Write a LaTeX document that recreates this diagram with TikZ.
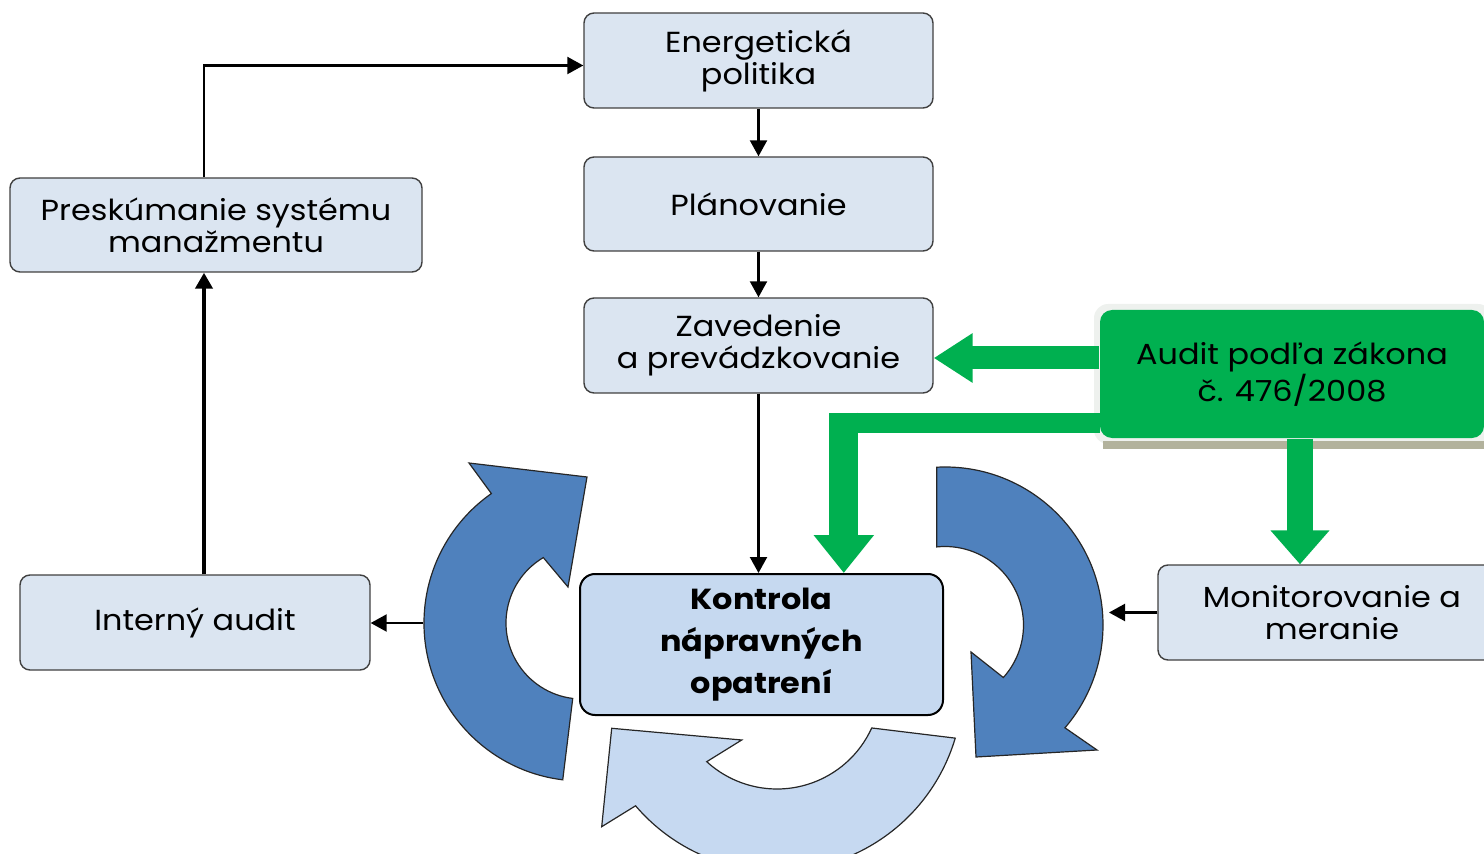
\documentclass[tikz,border=0pt]{standalone}
\usepackage{fontspec}
\setmainfont{Poppins}[FakeStretch=1.1]
\usepackage{xcolor}
\definecolor{boxfill}{HTML}{DBE5F1}
\definecolor{boxline}{HTML}{404040}
\definecolor{kfill}{HTML}{C6D9F0}
\definecolor{cycdark}{HTML}{4F81BD}
\definecolor{cyclight}{HTML}{C6D9F1}
\definecolor{ggreen}{HTML}{00B050}
\definecolor{gglow}{HTML}{EEF1EE}
\definecolor{gshadow}{HTML}{B2B29C}
\usepackage{tikz}
\usetikzlibrary{arrows.meta}

\tikzset{
  box/.style={draw=boxline, fill=boxfill, line width=0.7pt, rounded corners=5pt,
    align=center, inner sep=0pt, font=\fontsize{14.5}{16}\selectfont},
  conn/.style={line width=1.1pt, -{Triangle[length=8pt,width=8.5pt]}},
  cyc/.style={draw=black!85, line width=0.6pt},
  garrow/.style={draw=ggreen, line width=11.5pt, -{Triangle[length=19.5pt,width=23.5pt]}}
}

\begin{document}
\begin{tikzpicture}[x=0.5pt, y=0.5pt]

            \clip (0,0) rectangle (1484,853);

            \draw[cyc, fill=cycdark] (582,230) ++(263:158) arc[start angle=263, end angle=125, radius=158]
                -- (469,390) -- (587,376) -- (568,266)
                -- ([shift={(120.6:76)}]582,230) arc[start angle=120.6, end angle=263, radius=76] -- cycle;
            \draw[cyc, fill=cycdark] (945,228) ++(93:158) arc[start angle=93, end angle=-40.6, radius=158]
                -- (1097,103) -- (976,96) -- (971,201)
                -- ([shift={(-42:78.5)}]945,228) arc[start angle=-42, end angle=96, radius=78.5] -- cycle;
            \draw[cyc, fill=cyclight] (777,168) ++(-16.6:186) arc[start angle=-16.6, end angle=-139.5, radius=186]
                -- (601.7,26.3) -- (611.7,124.7) -- (741.7,113)
                -- ([shift={(-132.5:104)}]777,168) arc[start angle=-132.5, end angle=-24.4, radius=104] -- cycle;
            \coordinate (lcyc) at (423,230);
            \coordinate (rcyc) at (1109,242);

            \node[box, minimum width=174.5pt, minimum height=47.5pt] (pol) at (758.5,792.5) {Energetická\\politika};
            \node[box, minimum width=174.5pt, minimum height=47pt] (plan) at (758.5,649) {Plánovanie};
            \node[box, minimum width=174.5pt, minimum height=47.5pt] (zav) at (758.5,507.5) {Zavedenie\\a prevádzkovanie};
            \node[box, minimum width=206pt, minimum height=47pt] (presk) at (216,628) {Preskúmanie systému\\manažmentu};
            \node[box, minimum width=175pt, minimum height=47.5pt] (intaudit) at (195,230.5) {Interný audit};
            \node[box, minimum width=174pt, minimum height=47.5pt] (monit) at (1332,240.5) {Monitorovanie a\\meranie};
            \node[box, draw=black, fill=kfill, line width=1pt, rounded corners=7.5pt, minimum width=181.5pt, minimum height=70.5pt,
                font=\fontsize{14.5}{21}\selectfont\bfseries] (kontrola) at (761.5,208.5) {Kontrola\\nápravných\\opatrení};

            \fill[gglow, rounded corners=7pt] (1094,409) rectangle (1492,549);
            \fill[gshadow] (1103,404) rectangle (1484,412);
            \node[box, draw=none, fill=ggreen, rounded corners=6pt, minimum width=192pt, minimum height=64pt] (auditz) at (1292,479)
                {Audit podľa zákona\\č. 476/2008};

            \draw[garrow] ([yshift=8pt]auditz.west) -- ([yshift=8pt]auditz.west -| zav.east);
            \fill[ggreen] (829.3,419.7) rectangle (1100,440.3);
            \coordinate (gcorner) at (843.8,440.3);
            \draw[garrow, line width=14.5pt, -{Triangle[length=19pt,width=29pt]}] (gcorner) -- (gcorner |- kontrola.north);
            \draw[garrow, line width=13pt, -{Triangle[length=17pt,width=28.5pt]}] ([xshift=4pt]auditz.south) -- ([xshift=4pt]auditz.south |- monit.north);

            \draw[conn] ([xshift=-6pt]presk.north) |- ([yshift=-2.5pt]pol.west);
            \draw[conn] (pol) -- (plan);
            \draw[conn] (plan) -- (zav);
            \draw[conn] (zav.south) -- (zav.south |- kontrola.north);
            \draw[conn, line width=2pt] ([xshift=4.5pt]intaudit.north) -- ([xshift=4.5pt]intaudit.north |- presk.south);
            \draw[conn] (lcyc) -- (lcyc -| intaudit.east);
            \draw[conn] (monit.west) -- (monit.west -| rcyc);

          \end{tikzpicture}
\end{document}
